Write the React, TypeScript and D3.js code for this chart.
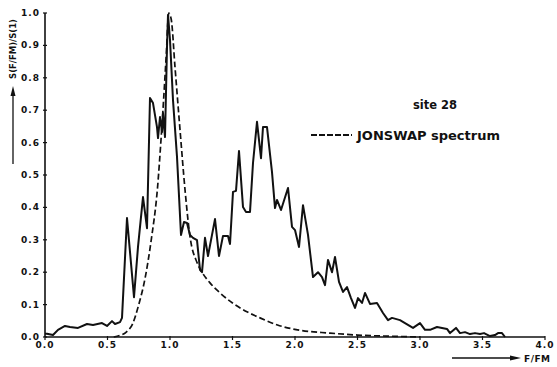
import React from "react";
import * as d3 from "d3";

const measuredF = [0.0, 0.016, 0.064, 0.104, 0.16, 0.2, 0.264, 0.336, 0.384, 0.456, 0.496, 0.536, 0.56, 0.6, 0.616, 0.656, 0.712, 0.744, 0.784, 0.816, 0.84, 0.864, 0.896, 0.904, 0.92, 0.936, 0.944, 0.96, 0.976, 0.984, 1.0, 1.024, 1.056, 1.088, 1.112, 1.136, 1.16, 1.184, 1.216, 1.24, 1.256, 1.28, 1.304, 1.36, 1.392, 1.424, 1.464, 1.48, 1.504, 1.528, 1.552, 1.584, 1.608, 1.64, 1.664, 1.696, 1.728, 1.744, 1.776, 1.816, 1.84, 1.856, 1.888, 1.944, 1.976, 2.0, 2.032, 2.064, 2.104, 2.144, 2.184, 2.216, 2.24, 2.264, 2.296, 2.32, 2.352, 2.384, 2.416, 2.448, 2.48, 2.504, 2.536, 2.56, 2.6, 2.656, 2.704, 2.744, 2.776, 2.84, 2.88, 2.944, 3.0, 3.04, 3.08, 3.136, 3.216, 3.24, 3.288, 3.32, 3.36, 3.4, 3.44, 3.48, 3.512, 3.56, 3.6, 3.624, 3.656, 3.68];
const measuredS = [0.01, 0.01, 0.006, 0.022, 0.034, 0.031, 0.028, 0.04, 0.037, 0.043, 0.034, 0.049, 0.04, 0.046, 0.059, 0.367, 0.123, 0.278, 0.432, 0.336, 0.738, 0.722, 0.648, 0.614, 0.679, 0.633, 0.691, 0.617, 0.895, 0.994, 0.917, 0.731, 0.556, 0.315, 0.355, 0.352, 0.315, 0.306, 0.299, 0.207, 0.2, 0.306, 0.25, 0.364, 0.25, 0.312, 0.312, 0.287, 0.448, 0.451, 0.574, 0.401, 0.386, 0.386, 0.537, 0.664, 0.552, 0.648, 0.648, 0.509, 0.398, 0.423, 0.392, 0.46, 0.34, 0.33, 0.278, 0.407, 0.315, 0.185, 0.2, 0.185, 0.16, 0.238, 0.2, 0.247, 0.17, 0.139, 0.154, 0.12, 0.09, 0.12, 0.105, 0.136, 0.102, 0.105, 0.074, 0.052, 0.059, 0.052, 0.043, 0.028, 0.043, 0.022, 0.022, 0.031, 0.025, 0.012, 0.028, 0.012, 0.015, 0.009, 0.012, 0.009, 0.012, 0.003, 0.006, 0.012, 0.012, 0.0];

const jonswapF = [0.55, 0.6, 0.65, 0.7, 0.75, 0.8, 0.85, 0.9, 0.93, 0.95, 0.97, 0.99, 1.01, 1.04, 1.08, 1.12, 1.16, 1.216, 1.256, 1.32, 1.4, 1.5, 1.62, 1.72, 1.86, 2.02, 2.28, 2.5, 2.8, 3.0];
const jonswapS = [0.0, 0.005, 0.015, 0.04, 0.1, 0.18, 0.3, 0.46, 0.62, 0.74, 0.87, 1.0, 0.98, 0.833, 0.64, 0.455, 0.31, 0.23, 0.2, 0.167, 0.136, 0.105, 0.077, 0.059, 0.037, 0.022, 0.012, 0.006, 0.002, 0.0];

const xTicks = [0, 0.5, 1.0, 1.5, 2.0, 2.5, 3.0, 3.5, 4.0];
const yTicks = [0, 0.1, 0.2, 0.3, 0.4, 0.5, 0.6, 0.7, 0.8, 0.9, 1.0];

const W = 557;
const H = 367;
const FONT = "'DejaVu Sans', Arial, sans-serif";

export default function App() {
  const x = d3.scaleLinear().domain([0, 4]).range([45, 545]);
  const y = d3.scaleLinear().domain([0, 1]).range([337, 13]);

  const measured = measuredF.map((f, i) => [f, measuredS[i]] as [number, number]);
  const jonswap = jonswapF.map((f, i) => [f, jonswapS[i]] as [number, number]);

  const line = d3
    .line<[number, number]>()
    .x((d) => x(d[0]))
    .y((d) => y(d[1]));
  const smooth = d3
    .line<[number, number]>()
    .x((d) => x(d[0]))
    .y((d) => y(d[1]))
    .curve(d3.curveMonotoneX);

  return (
    <svg
      width={W}
      height={H}
      style={{ position: "absolute", left: 0, top: 0, background: "#fff" }}
      fontFamily={FONT}
    >
      <rect x={0} y={0} width={W} height={H} fill="#fff" />
      {/* axes */}
      <line x1={x(0)} y1={y(0)} x2={x(4)} y2={y(0)} stroke="#111" strokeWidth={1.6} />
      <line x1={x(0)} y1={y(0)} x2={x(0)} y2={y(1)} stroke="#111" strokeWidth={1.6} />
      {xTicks.map((t) => (
        <g key={"x" + t}>
          <line x1={x(t)} x2={x(t)} y1={y(0) - 1} y2={y(0) + 3} stroke="#111" strokeWidth={1.2} />
          <text
            x={x(t)}
            y={y(0) + 11}
            fontSize={9}
            fontWeight="bold"
            textAnchor="middle"
            letterSpacing={1}
            fill="#111"
          >
            {t.toFixed(1)}
          </text>
        </g>
      ))}
      {yTicks.map((t) => (
        <g key={"y" + t}>
          <line x1={x(0) - 2} x2={x(0) + 2} y1={y(t)} y2={y(t)} stroke="#111" strokeWidth={1.2} />
          <text
            x={x(0) - 5}
            y={y(t) + 3}
            fontSize={9}
            fontWeight="bold"
            textAnchor="end"
            letterSpacing={1}
            fill="#111"
          >
            {t.toFixed(1)}
          </text>
        </g>
      ))}
      {/* y label */}
      <text
        transform="translate(16,49) rotate(-90)"
        fontSize={8.5}
        fontWeight="bold"
        textAnchor="middle"
        fill="#111"
      >
        S(F/FM)/S(1)
      </text>
      <line x1={13} y1={164} x2={13} y2={94} stroke="#111" strokeWidth={1.3} />
      <path d="M13,86 L10.5,96 L15.5,96 Z" fill="#111" />
      {/* x label */}
      <line x1={452} y1={358} x2={512} y2={358} stroke="#111" strokeWidth={1.3} />
      <path d="M521,358 L510,355.5 L510,360.5 Z" fill="#111" />
      <text x={524} y={362} fontSize={9} fontWeight="bold" fill="#111" letterSpacing={0.5}>
        F/FM
      </text>
      {/* data */}
      <path d={smooth(jonswap) || ""} fill="none" stroke="#111" strokeWidth={1.7} strokeDasharray="6,3" />
      <path d={line(measured) || ""} fill="none" stroke="#111" strokeWidth={2} strokeLinejoin="round" />
      {/* annotations */}
      <text x={413} y={109} fontSize={11.5} fontWeight="bold" fill="#111">
        site 28
      </text>
      <line x1={311} y1={135} x2={352} y2={135} stroke="#111" strokeWidth={1.8} strokeDasharray="6,2" />
      <text x={357} y={140} fontSize={13} fontWeight="bold" fill="#111">
        JONSWAP spectrum
      </text>
    </svg>
  );
}
